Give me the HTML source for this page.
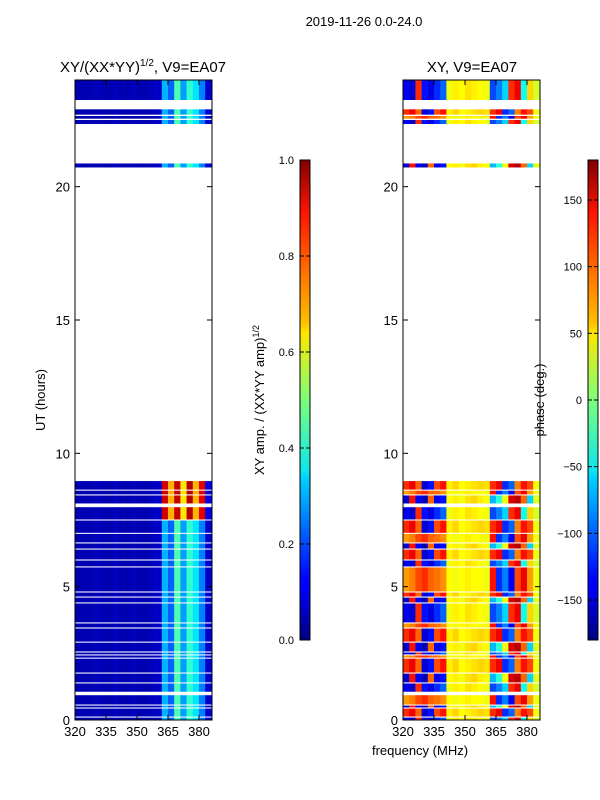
<!DOCTYPE html>
<html><head><meta charset="utf-8"><style>
body{margin:0;background:#fff;}
svg{display:block;font-family:"Liberation Sans",sans-serif;}
</style></head><body>
<svg id="fig" width="600" height="800" viewBox="0 0 600 800" xmlns="http://www.w3.org/2000/svg">
<defs>
<linearGradient id="jet" x1="0" y1="1" x2="0" y2="0">
<stop offset="0" stop-color="#00007f"/><stop offset="0.11" stop-color="#0000ff"/><stop offset="0.125" stop-color="#0000ff"/>
<stop offset="0.34" stop-color="#00d4ff"/><stop offset="0.35" stop-color="#0ce4ef"/><stop offset="0.5" stop-color="#7dff7a"/>
<stop offset="0.64" stop-color="#ffe600"/><stop offset="0.66" stop-color="#ffc000"/><stop offset="0.89" stop-color="#ff1400"/><stop offset="1" stop-color="#7f0000"/>
</linearGradient>
</defs>
<text x="364" y="26" font-size="13" text-anchor="middle">2019-11-26 0.0-24.0</text>
<text x="143" y="72" font-size="15" text-anchor="middle">XY/(XX*YY)<tspan font-size="10" dy="-6">1/2</tspan><tspan dy="6">, V9=EA07</tspan></text>
<text x="472" y="72" font-size="15" text-anchor="middle">XY, V9=EA07</text>
<text x="45" y="400" font-size="13" text-anchor="middle" transform="rotate(-90 45 400)">UT (hours)</text>
<text x="420" y="755" font-size="13" text-anchor="middle">frequency (MHz)</text>
<text x="264" y="400" font-size="13" text-anchor="middle" transform="rotate(-90 264 400)">XY amp. / (XX*YY amp)<tspan font-size="9" dy="-5">1/2</tspan></text>
<text x="544" y="400" font-size="13" text-anchor="middle" transform="rotate(-90 544 400)">phase (deg.)</text>
<g id="layer"></g>
</svg>
<script>
// frequency channel edges (MHz), 22 channels of 3 MHz
const freqStart = 320, freqStep = 3, nChan = 22;
// time segments: [startHour, endHour, ampProfile, phaseProfile]
const segments = [
[0.0,0.09,0,0],[0.13,0.43,0,1],[0.47,0.54,0,2],[0.58,0.93,0,3],[1.06,1.37,0,0],[1.41,1.74,0,2],
[1.78,2.30,0,1],[2.34,2.42,0,3],[2.46,2.53,0,0],[2.57,2.90,0,2],[2.94,3.43,0,1],[3.47,3.62,0,3],
[3.66,4.37,0,0],[4.41,4.59,0,2],[4.63,4.78,0,1],[4.82,5.72,0,3],[5.76,5.98,0,0],[6.02,6.39,0,1],
[6.43,6.62,0,2],[6.66,6.98,0,3],[7.02,7.48,0,1],[7.52,7.98,1,0],[8.12,8.42,1,2],[8.46,8.60,1,3],
[8.64,8.96,1,1],[20.72,20.87,0,2],[22.35,22.50,0,0],[22.55,22.65,0,3],[22.70,22.90,0,1],[23.25,24.0,0,0]
];
// amplitude profiles per channel
const ampQuiet = [0.05,0.05,0.05,0.06,0.05,0.05,0.06,0.05,0.05,0.06,0.05,0.05,0.06,0.07,0.30,0.22,0.45,0.28,0.42,0.35,0.25,0.08];
const ampHot   = [0.05,0.05,0.05,0.06,0.05,0.05,0.06,0.05,0.05,0.06,0.05,0.05,0.06,0.07,0.92,0.70,0.93,0.65,0.95,0.70,0.90,0.10];
const ampProfiles = [ampQuiet, ampHot];
// phase profiles (deg) per channel
const phaseA = [-140,-150,120,-130,-145,-120,-100,40,50,45,55,50,45,40,-110,-90,-60,120,140,-40,60,30];
const phaseB = [120,140,100,-150,-130,110,130,50,60,45,50,55,60,55,120,140,-120,-100,90,130,110,40];
const phaseC = [-150,130,-140,-160,100,-140,-130,45,50,40,55,60,50,45,-70,-30,40,150,160,100,-60,35];
const phaseD = [80,90,110,120,100,95,85,45,40,45,50,45,45,40,130,-120,-90,-140,110,140,80,40];
const phaseProfiles = [phaseA, phaseB, phaseC, phaseD];
// ticks
const yTicks = [0,5,10,15,20];
const xTicks = [320,335,350,365,380];
const ampCbTicks = [0.0,0.2,0.4,0.6,0.8,1.0];
const phaseCbTicks = [-150,-100,-50,0,50,100,150];

const NS="http://www.w3.org/2000/svg";
const layer=document.getElementById('layer');
const axTop=80, axBot=720, tMax=24, fMax=386.3;
const panels=[{x0:75,x1:212,name:'amp'},{x0:403,x1:540,name:'phase'}];
function yOf(t){return axBot-(t/tMax)*(axBot-axTop);}
function xOf(p,f){return p.x0+(f-freqStart)/(fMax-freqStart)*(p.x1-p.x0);}
function jet(v){v=Math.max(0,Math.min(1,v));
 const r=Math.max(0,Math.min(1,1.5-Math.abs(4*v-3))),g=Math.max(0,Math.min(1,1.5-Math.abs(4*v-2))),b=Math.max(0,Math.min(1,1.5-Math.abs(4*v-1)));
 return `rgb(${Math.round(r*255)},${Math.round(g*255)},${Math.round(b*255)})`;}
function mk(tag,attrs){const e=document.createElementNS(NS,tag);for(const k in attrs)e.setAttribute(k,attrs[k]);layer.appendChild(e);return e;}

panels.forEach((p,pi)=>{
 segments.forEach((s,si)=>{
  for(let c=0;c<nChan;c++){
   const f0=freqStart+c*freqStep,f1=Math.min(fMax,f0+freqStep);
   const v = pi===0 ? ampProfiles[s[2]][c] : (phaseProfiles[s[3]][c]+180)/360;
   const r=mk('rect',{x:xOf(p,f0),y:yOf(s[1]),width:xOf(p,f1)-xOf(p,f0)+0.3,height:yOf(s[0])-yOf(s[1]),fill:jet(v)});
   
   
  }
 });
 const fr=mk('rect',{x:p.x0,y:axTop,width:p.x1-p.x0,height:axBot-axTop,fill:'none',stroke:'#000','stroke-width':1});
 
 
 yTicks.forEach(t=>{
  const y=yOf(t);
  mk('line',{x1:p.x0,x2:p.x0+5,y1:y,y2:y,stroke:'#000'});
  mk('line',{x1:p.x1,x2:p.x1-5,y1:y,y2:y,stroke:'#000'});
  const tx=mk('text',{x:p.x0-5,y:y+5,'font-size':13,'text-anchor':'end'});tx.textContent=t;
  
  
 });
 xTicks.forEach(f=>{
  const x=xOf(p,f);
  mk('line',{x1:x,x2:x,y1:axBot,y2:axBot-5,stroke:'#000'});
  mk('line',{x1:x,x2:x,y1:axTop,y2:axTop+5,stroke:'#000'});
  const tx=mk('text',{x:x,y:axBot+16,'font-size':13,'text-anchor':'middle'});tx.textContent=f;
  
  
 });
});
// colorbars
const cbs=[{x:300,lx:294,ticks:ampCbTicks,min:0,max:1,fmt:v=>v.toFixed(1),name:'amp-colorbar'},
           {x:588,lx:582,ticks:phaseCbTicks,min:-180,max:180,fmt:v=>v<0?'\u2212'+(-v):String(v),name:'phase-colorbar'}];
cbs.forEach(cb=>{
 const r=mk('rect',{x:cb.x,y:160,width:10,height:480,fill:'url(#jet)',stroke:'#000','stroke-width':1});
 
 
 cb.ticks.forEach(v=>{
  const y=640-(v-cb.min)/(cb.max-cb.min)*480;
  mk('line',{x1:cb.x+10,x2:cb.x+6,y1:y,y2:y,stroke:'#000'});
  mk('line',{x1:cb.x,x2:cb.x+4,y1:y,y2:y,stroke:'#000'});
  const tx=mk('text',{x:cb.lx,y:y+4,'font-size':11,'text-anchor':'end'});
  tx.textContent=cb.fmt(v);
  
  
 });
});
</script>
</body></html>
